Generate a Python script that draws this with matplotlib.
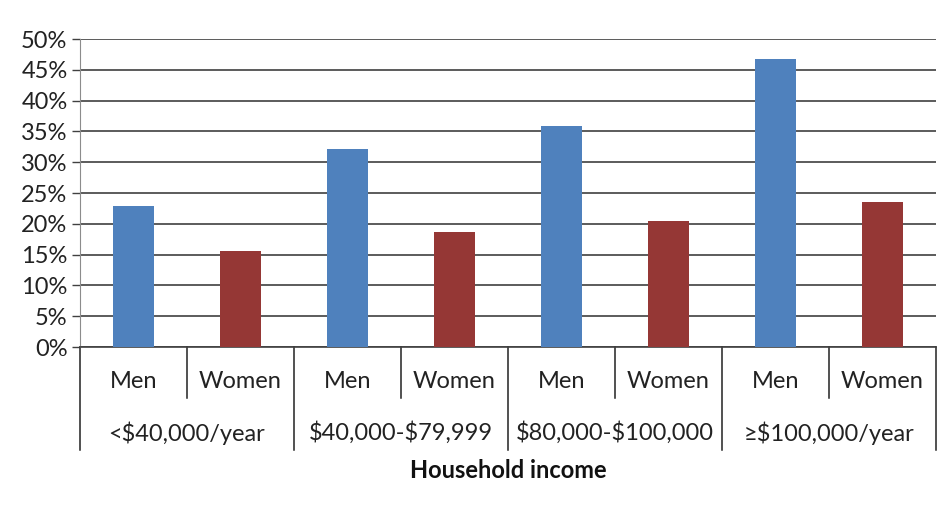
import matplotlib.pyplot as plt
from matplotlib.ticker import PercentFormatter

# data
groups = ["<$40,000/year", "$40,000-$79,999", "$80,000-$100,000", "≥$100,000/year"]
sexes = ["Men", "Women"]
men = [22.9, 32.1, 35.8, 46.7]
women = [15.6, 18.6, 20.5, 23.5]

plt.rcParams["font.family"] = ["Lato", "DejaVu Sans"]
plt.rcParams["text.parse_math"] = False

W, H = 951, 513
fig = plt.figure(figsize=(W / 100, H / 100), dpi=100)
left, right, top, bottom = 80, 936, 39, 347
ax = fig.add_axes([left / W, 1 - bottom / H, (right - left) / W, (bottom - top) / H])
ph = bottom - top  # axes height in pixels

vals = []
cols = []
for m, w in zip(men, women):
    vals += [m, w]
    cols += ["#4F81BD", "#953735"]
x = list(range(len(vals)))
ax.bar(x, vals, width=0.385, color=cols, zorder=3)

ax.set_xlim(-0.5, len(vals) - 0.5)
ax.set_ylim(0, 50)
ax.set_yticks(range(0, 51, 5))
ax.yaxis.set_major_formatter(PercentFormatter(decimals=0))
ax.tick_params(axis="y", length=6, width=1, color="#404040", labelsize=17, pad=3, labelcolor="#222222")
ax.set_xticks([])
ax.grid(axis="y", color="#404040", linewidth=1.2, zorder=0)

for s in ["top", "right"]:
    ax.spines[s].set_visible(False)
ax.spines["left"].set_color("#8c8c8c")
ax.spines["bottom"].set_color("#404040")
ax.spines["bottom"].set_linewidth(1.2)

tr = ax.get_xaxis_transform()


def ay(px):
    return -px / ph


# separators below the axis
for i in range(len(vals) + 1):
    depth = 103 if i % 2 == 0 else 51
    ax.plot([i - 0.5, i - 0.5], [0, ay(depth)], transform=tr, color="#222222",
            linewidth=1.1, clip_on=False)

for i in x:
    ax.text(i, ay(34), sexes[i % 2], transform=tr, ha="center", va="center",
            fontsize=17, color="#222222")

for g, name in enumerate(groups):
    ax.text(2 * g + 0.5, ay(86), name, transform=tr, ha="center", va="center",
            fontsize=17, color="#222222")

ax.text(3.5, ay(124), "Household income", transform=tr, ha="center", va="center",
        fontsize=17, fontweight="bold", color="#111111")

fig.savefig("out.png", dpi=100)
